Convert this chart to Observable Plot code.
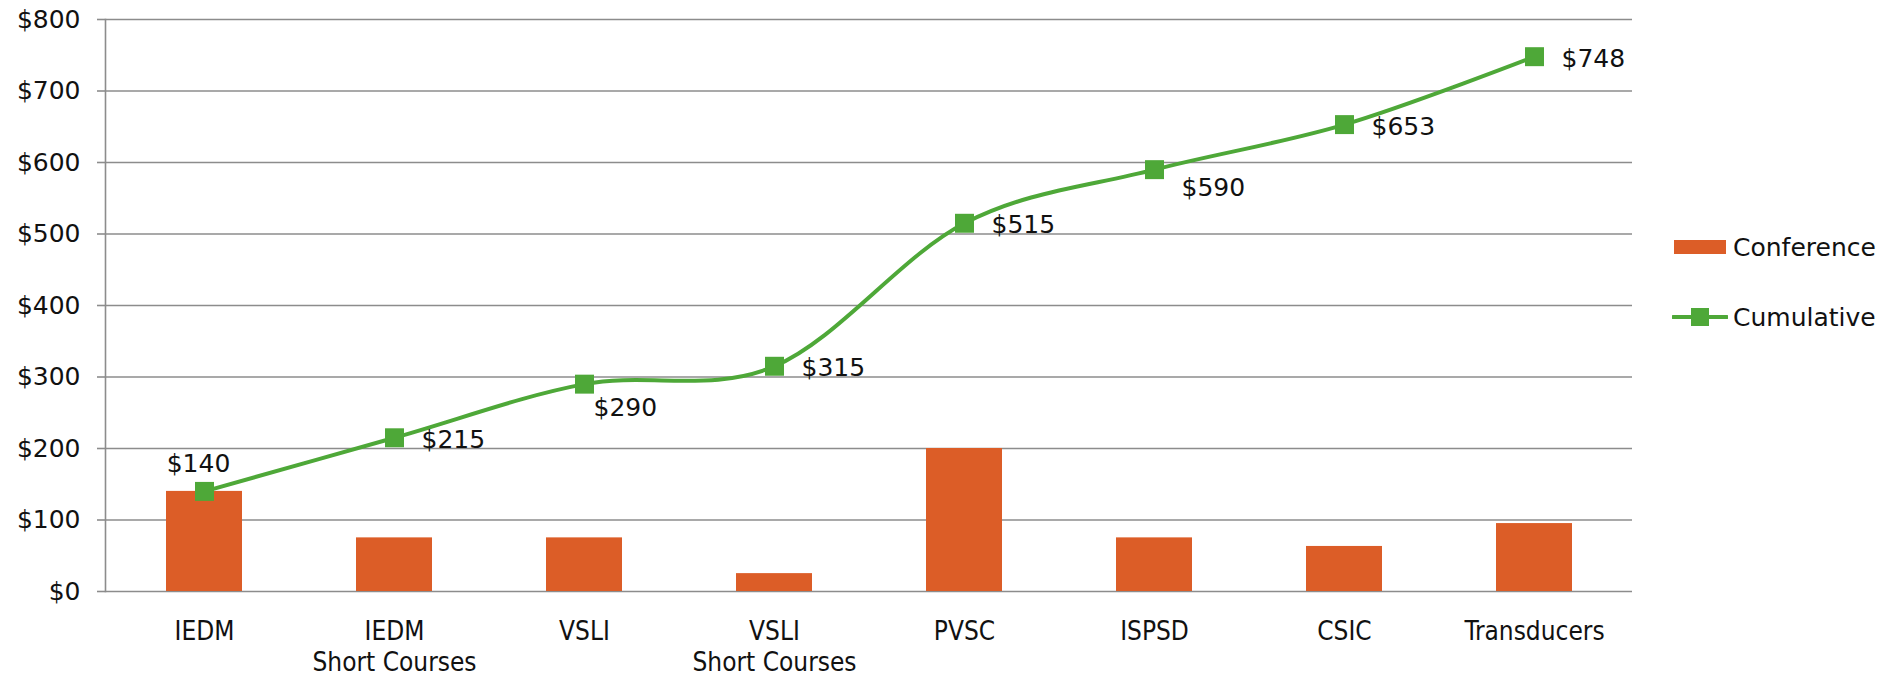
<!DOCTYPE html>
<html><head><meta charset="utf-8">
<script src="https://cdn.jsdelivr.net/npm/d3@7"></script>
<script src="https://cdn.jsdelivr.net/npm/@observablehq/plot@0.6"></script>
<style>
html,body{margin:0;padding:0;background:#fff;overflow:hidden}
#wrap{position:relative;width:1892px;height:678px}
.leg{position:absolute;left:1672px;height:30px;display:flex;align-items:center;font:25px "DejaVu Sans",sans-serif;color:#111}
.leg svg{margin-right:5px}
</style></head><body><div id="wrap"></div>
<script>
// ---- data ----
const categories = ["IEDM", "IEDM\nShort Courses", "VSLI", "VSLI\nShort Courses", "PVSC", "ISPSD", "CSIC", "Transducers"];
const conference = [140, 75, 75, 25, 200, 75, 63, 95];
const cumulative = [140, 215, 290, 315, 515, 590, 653, 748];
const yTicks = [0, 100, 200, 300, 400, 500, 600, 700, 800];
const seriesNames = ["Conference", "Cumulative"];

// label placement (style only)
const labelPlacement = ["above", "right", "below", "right", "right", "below-right", "right", "right"];
const placementStyle = {
  "above": {textAnchor: "middle", dx: -6, dy: -27},
  "right": {textAnchor: "start", dx: 27, dy: 2},
  "below": {textAnchor: "start", dx: 9, dy: 24},
  "below-right": {textAnchor: "start", dx: 27, dy: 18}
};

const orange = "#DC5D27";
const green = "#4EA838";
const gridColor = "#8c8c8c";
const font = "DejaVu Sans, sans-serif";

const rows = categories.map((c, i) => ({cat: c, conf: conference[i], cum: cumulative[i], place: labelPlacement[i]}));

const labelMarks = Object.entries(placementStyle).map(([k, s]) =>
  Plot.text(rows.filter(d => d.place === k), {
    x: "cat", y: "cum", text: d => "$" + d.cum,
    fontSize: 25, fontFamily: font, fill: "#111", ...s
  })
);

const chart = Plot.plot({
  width: 1892,
  height: 678,
  marginLeft: 105,
  marginRight: 260,
  marginTop: 19,
  marginBottom: 87,
  style: {fontFamily: font, fontSize: "25px", color: "#111", background: "#fff"},
  x: {domain: categories, paddingInner: 0.6, paddingOuter: 0.3, label: null},
  y: {domain: [0, 800], label: null},
  marks: [
    Plot.gridY(yTicks, {stroke: gridColor, strokeOpacity: 1, strokeWidth: 1.6}),
    Plot.axisY(yTicks, {tickSize: 8, tickPadding: 17, stroke: gridColor, strokeWidth: 1.6, tickFormat: d => "$" + d, fontSize: 25, fontFamily: font, label: null}),
    Plot.axisX({tickSize: 0, tickPadding: 26, fontSize: 26, fontFamily: "DejaVu Sans Condensed, DejaVu Sans, sans-serif", lineHeight: 1.2, label: null}),
    Plot.barY(rows, {x: "cat", y: "conf", fill: orange}),
    Plot.frame({anchor: "left", stroke: gridColor, strokeWidth: 1.6}),
    Plot.line(rows, {x: "cat", y: "cum", stroke: green, strokeWidth: 4, curve: "cardinal", tension: 0}),
    Plot.dot(rows, {x: "cat", y: "cum", symbol: "square", r: 10.7, fill: green, stroke: "none"}),
    ...labelMarks
  ]
});

const wrap = document.getElementById("wrap");
wrap.appendChild(chart);

// legend
const leg1 = document.createElement("div");
leg1.className = "leg";
leg1.style.top = (247 - 15) + "px";
leg1.innerHTML = `<svg width="56" height="30"><rect x="2" y="8" width="52" height="14" fill="${orange}"/></svg><span>${seriesNames[0]}</span>`;
wrap.appendChild(leg1);
const leg2 = document.createElement("div");
leg2.className = "leg";
leg2.style.top = (317 - 15) + "px";
leg2.innerHTML = `<svg width="56" height="30"><line x1="1" y1="15" x2="55" y2="15" stroke="${green}" stroke-width="4" stroke-linecap="round"/><rect x="19" y="6" width="18" height="18" fill="${green}"/></svg><span>${seriesNames[1]}</span>`;
wrap.appendChild(leg2);
</script>
</body></html>
